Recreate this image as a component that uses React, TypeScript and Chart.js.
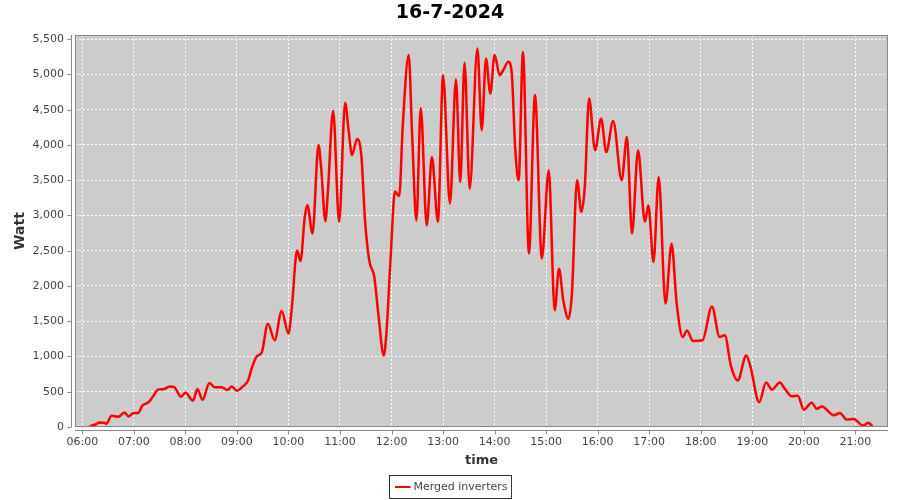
import React, { useEffect, useRef } from "react";
import { Chart, registerables } from "chart.js";

Chart.register(...registerables);

const chartTitle = "16-7-2024";
const seriesLabel = "Merged inverters";
const xAxisTitle = "time";
const yAxisTitle = "Watt";

const times = [
  "06:08", "06:17", "06:19", "06:26", "06:28", "06:34", "06:42", "06:49", "06:54", "07:00",
  "07:05", "07:10", "07:17", "07:23", "07:28", "07:34", "07:42", "07:47", "07:55", "08:00",
  "08:09", "08:14", "08:20", "08:28", "08:34", "08:42", "08:49", "08:54", "09:00", "09:07",
  "09:13", "09:17", "09:23", "09:29", "09:36", "09:44", "09:52", "10:00", "10:04", "10:10",
  "10:14", "10:19", "10:22", "10:28", "10:35", "10:38", "10:43", "10:46", "10:52", "10:59",
  "11:06", "11:10", "11:14", "11:20", "11:25", "11:29", "11:34", "11:40", "11:45", "11:51",
  "11:54", "11:59", "12:04", "12:09", "12:13", "12:20", "12:24", "12:29", "12:34", "12:41",
  "12:47", "12:54", "13:00", "13:08", "13:15", "13:20", "13:25", "13:31", "13:40", "13:45",
  "13:50", "13:55", "14:00", "14:06", "14:10", "14:16", "14:20", "14:24", "14:28", "14:33",
  "14:40", "14:47", "14:55", "15:03", "15:10", "15:15", "15:20", "15:26", "15:30", "15:36",
  "15:41", "15:45", "15:50", "15:57", "16:04", "16:10", "16:18", "16:28", "16:34", "16:40",
  "16:47", "16:55", "16:59", "17:05", "17:11", "17:19", "17:26", "17:32", "17:39", "17:44",
  "17:51", "18:02", "18:13", "18:22", "18:28", "18:35", "18:43", "18:53", "18:58", "19:08",
  "19:16", "19:23", "19:32", "19:38", "19:46", "19:53", "20:00", "20:09", "20:15", "20:21",
  "20:35", "20:42", "20:50", "20:58", "21:09", "21:15", "21:20",
];

const watts = [
  10, 45, 65, 60, 45, 160, 145, 205, 150, 200,
  200, 305, 350, 445, 530, 535, 575, 565, 430, 485,
  375, 540, 385, 625, 565, 565, 525, 575, 515, 575,
  660, 825, 1000, 1060, 1465, 1230, 1645, 1325, 1700, 2505,
  2355, 2980, 3145, 2745, 4000, 3690, 2920, 3360, 4485, 2910,
  4600, 4210, 3855, 4085, 3830, 2955, 2365, 2125, 1560, 1015,
  1325, 2410, 3340, 3275, 4255, 5275, 4140, 2930, 4520, 2860,
  3830, 2910, 4990, 3170, 4930, 3475, 5165, 3380, 5370, 4210,
  5225, 4730, 5275, 4990, 5060, 5180, 5015, 3950, 3500, 5320,
  2460, 4710, 2390, 3640, 1655, 2245, 1795, 1535, 1890, 3500,
  3050, 3405, 4660, 3925, 4375, 3900, 4340, 3500, 4115, 2745,
  3925, 2910, 3145, 2340, 3545, 1750, 2600, 1750, 1275, 1370,
  1220, 1230, 1710, 1275, 1300, 875, 660, 1015, 850, 350,
  630, 530, 630, 540, 435, 445, 245, 345, 260, 290,
  165, 200, 105, 115, 20, 60, 10,
];

const xTickLabels = [
  "06:00", "07:00", "08:00", "09:00", "10:00", "11:00", "12:00", "13:00",
  "14:00", "15:00", "16:00", "17:00", "18:00", "19:00", "20:00", "21:00",
];
const yTickValues = [0, 500, 1000, 1500, 2000, 2500, 3000, 3500, 4000, 4500, 5000, 5500];

const X_MIN = "05:51.5";
const X_MAX = "21:38";
const Y_MIN = 0;
const Y_MAX = 5560;

const toMin = (s: string): number => {
  const [h, m] = s.split(":");
  return Number(h) * 60 + Number(m);
};
const fmtMin = (v: number): string => {
  const h = Math.floor(v / 60);
  const m = Math.round(v - h * 60);
  return String(h).padStart(2, "0") + ":" + String(m).padStart(2, "0");
};

const FONT = "'DejaVu Sans', sans-serif";
const AXIS_GRAY = "#888888";

const framePlugin = {
  id: "frame",
  beforeDraw(chart: any) {
    const { ctx, chartArea: a, width, height } = chart;
    ctx.save();
    ctx.fillStyle = "#ffffff";
    ctx.fillRect(0, 0, width, height);
    ctx.fillStyle = "#cccccc";
    ctx.fillRect(a.left, a.top, a.right - a.left, a.bottom - a.top);
    ctx.restore();
  },
  afterDraw(chart: any) {
    const { ctx, chartArea: a, width } = chart;
    const xs = chart.scales.x;
    const ys = chart.scales.y;
    ctx.save();
    // plot border
    ctx.strokeStyle = AXIS_GRAY;
    ctx.lineWidth = 1;
    ctx.strokeRect(a.left + 0.5, a.top + 0.5, a.right - a.left - 1, a.bottom - a.top - 1);
    // y axis line + ticks
    const yl = a.left - 3.5;
    ctx.beginPath();
    ctx.moveTo(yl, a.top);
    ctx.lineTo(yl, a.bottom);
    for (const t of ys.ticks) {
      const py = Math.round(ys.getPixelForValue(t.value)) + 0.5;
      ctx.moveTo(yl - 4, py);
      ctx.lineTo(yl, py);
    }
    // x axis line + ticks
    const xl = a.bottom + 3.5;
    ctx.moveTo(a.left, xl);
    ctx.lineTo(a.right, xl);
    for (const t of xs.ticks) {
      const px = Math.round(xs.getPixelForValue(t.value)) + 0.5;
      ctx.moveTo(px, xl);
      ctx.lineTo(px, xl + 4);
    }
    ctx.stroke();

    // legend
    ctx.font = "11px " + FONT;
    const tw = ctx.measureText(seriesLabel).width;
    const boxW = 6 + 15 + 3 + tw + 4;
    const boxH = 23;
    const bx = Math.round(width / 2 - boxW / 2) + 0.5;
    const by = 475.5;
    ctx.strokeStyle = "#333333";
    ctx.strokeRect(bx, by, boxW, boxH);
    ctx.strokeStyle = "#ff0000";
    ctx.lineWidth = 2;
    ctx.beginPath();
    ctx.moveTo(bx + 5.5, by + boxH / 2);
    ctx.lineTo(bx + 21, by + boxH / 2);
    ctx.stroke();
    ctx.fillStyle = "#444444";
    ctx.textBaseline = "middle";
    ctx.textAlign = "left";
    ctx.fillText(seriesLabel, bx + 24, by + boxH / 2 + 0.5);
    ctx.restore();
  },
};

export default function App() {
  const ref = useRef<HTMLCanvasElement | null>(null);

  useEffect(() => {
    if (!ref.current) return;
    const [xh, xm] = X_MIN.split(":");
    const xMin = Number(xh) * 60 + Number(xm);
    const xMax = toMin(X_MAX);
    const points = times.map((t, i) => ({ x: toMin(t), y: watts[i] }));
    const xTickVals = xTickLabels.map(toMin);

    const chart = new Chart(ref.current, {
      type: "line",
      data: {
        datasets: [
          {
            label: seriesLabel,
            data: points,
            borderColor: "#ff0000",
            backgroundColor: "#ff0000",
            borderWidth: 2.5,
            pointRadius: 0,
            cubicInterpolationMode: "monotone",
            fill: false,
            yAxisID: "y",
          },
        ],
      },
      options: {
        animation: false,
        responsive: false,
        maintainAspectRatio: false,
        layout: { padding: { left: 0, right: 0, top: 0, bottom: 28 } },
        plugins: {
          legend: { display: false },
          tooltip: { enabled: false },
          title: {
            display: true,
            text: chartTitle,
            color: "#000000",
            font: { family: FONT, size: 19, weight: "bold", lineHeight: 1.2 },
            padding: { top: 2, bottom: 10.2 },
          },
        },
        scales: {
          x: {
            type: "linear",
            min: xMin,
            max: xMax,
            afterBuildTicks: (s: any) => {
              s.ticks = xTickVals.map((v) => ({ value: v }));
            },
            afterFit: (s: any) => {
              s.height = 45;
            },
            ticks: {
              autoSkip: false,
              maxRotation: 0,
              padding: 9,
              color: "#444444",
              font: { family: FONT, size: 11 },
              callback: (v: any) => fmtMin(Number(v)),
            },
            grid: {
              color: "#ffffff",
              lineWidth: 1,
              drawTicks: false,
            },
            border: { display: false, dash: [2, 2] },
            title: {
              display: true,
              text: xAxisTitle,
              color: "#333333",
              font: { family: FONT, size: 13, weight: "bold", lineHeight: 1.2 },
              padding: { top: 4, bottom: 4 },
            },
          },
          y: {
            type: "linear",
            position: "left",
            min: Y_MIN,
            max: Y_MAX,
            afterBuildTicks: (s: any) => {
              s.ticks = yTickValues.map((v) => ({ value: v }));
            },
            afterFit: (s: any) => {
              s.width = 75;
            },
            ticks: {
              padding: 11,
              color: "#444444",
              font: { family: FONT, size: 11 },
              callback: (v: any) => Number(v).toLocaleString("en-US"),
            },
            grid: {
              color: "#ffffff",
              lineWidth: 1,
              drawTicks: false,
            },
            border: { display: false, dash: [2, 2] },
            title: {
              display: true,
              text: yAxisTitle,
              color: "#333333",
              font: { family: FONT, size: 14, weight: "bold", lineHeight: 1.2 },
              padding: { top: 12, bottom: 0 },
            },
          },
          yRightGap: {
            type: "linear",
            position: "right",
            display: true,
            afterFit: (s: any) => {
              s.width = 12;
            },
            ticks: { display: false },
            grid: { display: false, drawOnChartArea: false, drawTicks: false },
            border: { display: false },
            title: { display: false },
          },
        },
      },
      plugins: [framePlugin],
    } as any);

    return () => chart.destroy();
  }, []);

  return (
    <div style={{ position: "fixed", left: 0, top: 0, width: 900, height: 500 }}>
      <canvas ref={ref} width={900} height={500} style={{ width: 900, height: 500 }} />
    </div>
  );
}
